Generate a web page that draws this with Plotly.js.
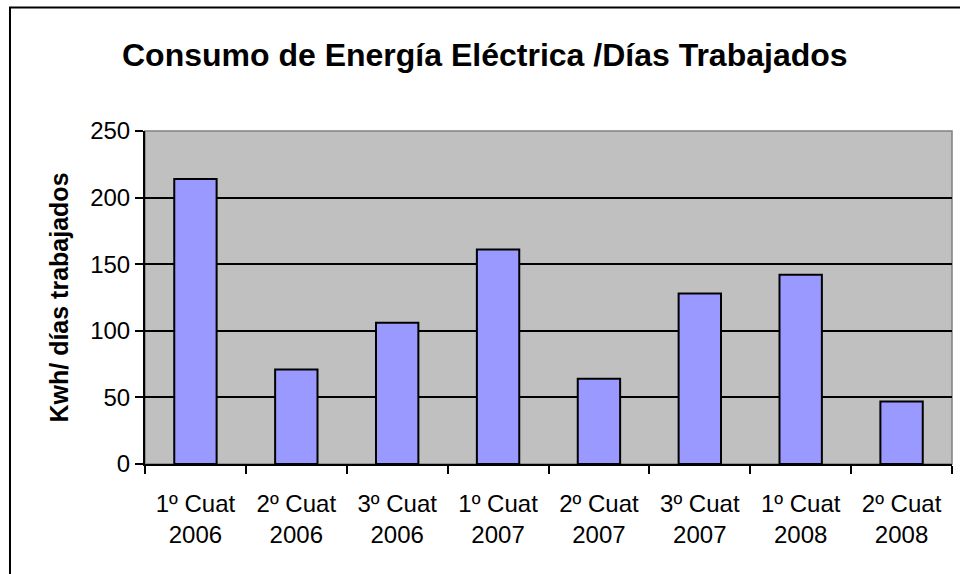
<!DOCTYPE html>
<html>
<head>
<meta charset="utf-8">
<script src="https://cdn.plot.ly/plotly-3.0.1.min.js"></script>
<style>
  body { margin: 0; background: #fff; }
  #chart { width: 960px; height: 574px; }
</style>
</head>
<body>
<div id="chart"></div>
<script>
// Data ---------
let periods = ['1º Cuat', '2º Cuat', '3º Cuat', '1º Cuat', '2º Cuat', '3º Cuat', '1º Cuat', '2º Cuat']
let years = ['2006', '2006', '2006', '2007', '2007', '2007', '2008', '2008']
let kwh_per_day = [214, 71, 106, 161, 64, 128, 142, 47]

let categories = periods.map((p, i) => p + '<br>' + years[i])

let font_family = '"Liberation Sans", Arial, sans-serif'

// Plotting ---------
var trace1 = {
  x: categories,
  y: kwh_per_day,
  type: 'bar',
  marker: { color: '#9999FF', line: { color: '#000000', width: 2 } },
  hoverinfo: 'x+y'
}

var layout = {
  width: 960,
  height: 574,
  margin: { l: 145, r: 8, t: 131, b: 110 },
  paper_bgcolor: '#ffffff',
  plot_bgcolor: '#C0C0C0',
  bargap: 0.58,
  showlegend: false,
  font: { family: font_family, color: '#000000', size: 24 },
  title: {
    text: '<b>Consumo de Energía Eléctrica /Días Trabajados</b>',
    font: { family: font_family, size: 32, color: '#000000' },
    x: 0.505, xanchor: 'center',
    y: 0.905, yanchor: 'middle'
  },
  xaxis: {
    type: 'category',
    tickson: 'boundaries',
    ticks: 'outside',
    ticklen: 8,
    tickwidth: 2,
    tickcolor: '#000000',
    ticklabelstandoff: 17,
    showline: true,
    linecolor: '#000000',
    linewidth: 2,
    showgrid: false,
    tickfont: { size: 24 }
  },
  yaxis: {
    range: [0, 250],
    tickvals: [0, 50, 100, 150, 200, 250],
    ticks: 'outside',
    ticklen: 8,
    tickwidth: 2,
    tickcolor: '#000000',
    showline: true,
    linecolor: '#000000',
    linewidth: 2,
    showgrid: true,
    gridcolor: '#000000',
    gridwidth: 2,
    zeroline: false,
    tickfont: { size: 24 },
    title: {
      text: '<b>Kwh/ días trabajados</b>',
      font: { size: 25 },
      standoff: 14
    }
  },
  shapes: [
    // gray border of the plot area
    { type: 'rect', xref: 'paper', yref: 'paper', x0: 0, x1: 1, y0: 0, y1: 1,
      line: { color: '#808080', width: 1.5 }, layer: 'below' },
    // outer chart frame (cut off at right and bottom)
    { type: 'rect', xref: 'paper', yref: 'paper', x0: -0.1673, x1: 1.5, y0: -1, y1: 1.3705,
      line: { color: '#000000', width: 2 } }
  ]
}

Plotly.newPlot('chart', [trace1], layout, { displayModeBar: false, staticPlot: true })
</script>
</body>
</html>
